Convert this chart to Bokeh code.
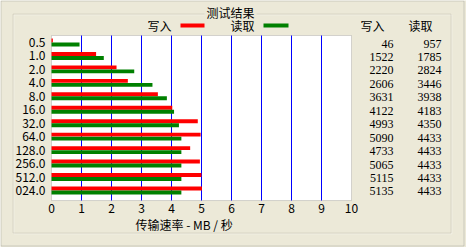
from bokeh.plotting import figure
from bokeh.models import (Range1d, Label, LabelSet, BoxAnnotation, ColumnDataSource,
                          FixedTicker, LinearAxis)
from bokeh.embed import file_html
from bokeh.resources import INLINE

# ---- data (KB/s as displayed in the right-hand columns) ----
block_sizes = ["0.5", "1.0", "2.0", "4.0", "8.0", "16.0", "32.0", "64.0",
               "128.0", "256.0", "512.0", "024.0"]
write_kb = [46, 1522, 2220, 2606, 3631, 4122, 4993, 5090, 4733, 5065, 5115, 5135]
read_kb = [957, 1785, 2824, 3446, 3938, 4183, 4350, 4433, 4433, 4433, 4433, 4433]
x_ticks = list(range(0, 11))

FONT = "Noto Sans CJK SC"
BG = "#ECE9D8"
W, H = 466, 247

rows = list(range(len(block_sizes)))
src = ColumnDataSource(dict(
    row=rows,
    row_w=[r - 0.15 for r in rows],
    row_r=[r + 0.15 for r in rows],
    write_mb=[v / 1024 for v in write_kb],
    read_mb=[v / 1024 for v in read_kb],
    write_txt=[str(v) for v in write_kb],
    read_txt=[str(v) for v in read_kb],
))

# frame spans the whole canvas; plot box sits at px x 51..350, y 35..200
PX_X = 30.0      # px per MB/s
PX_Y = 13.45     # px per row
X0, ROW0 = 51, 42
Y_TOP, Y_BOT = -0.52, 11.75
p = figure(width=W, height=H, output_backend="svg", toolbar_location=None,
           title=None, x_axis_location=None, y_axis_location=None,
           x_range=Range1d(-X0 / PX_X, (W - X0) / PX_X),
           y_range=Range1d((H - ROW0) / PX_Y, -ROW0 / PX_Y),
           min_border=0)
p.outline_line_color = None
p.background_fill_color = BG
p.border_fill_color = BG
p.grid.visible = False

def sbox(l, r, t, b, **kw):
    p.add_layout(BoxAnnotation(left=l, right=r, top=H - t, bottom=H - b,
                               left_units="screen", right_units="screen",
                               top_units="screen", bottom_units="screen", **kw))

# window frame and etched group box
sbox(0.5, 463.5, 0.5, 245.5, fill_color=None, line_color="#808080", level="underlay")
sbox(13.5, 451.5, 14.5, 233.5, fill_color=None, line_color="white", level="underlay")
sbox(12.5, 450.5, 13.5, 232.5, fill_color=None, line_color="#ACA899", level="underlay")

# white plot area
p.add_layout(BoxAnnotation(left=0, right=10, top=Y_TOP, bottom=Y_BOT,
                           fill_color="white", fill_alpha=1,
                           line_color="#808080", level="underlay"))

# vertical blue grid lines
p.segment(x0=x_ticks[1:-1], x1=x_ticks[1:-1], y0=Y_TOP, y1=Y_BOT,
          line_color="#0000FF", line_width=1)

p.hbar(y="row_w", left=0, right="write_mb", height=0.29, source=src,
       fill_color="#FF0000", line_color=None)
p.hbar(y="row_r", left=0, right="read_mb", height=0.29, source=src,
       fill_color="#008000", line_color=None)

# axes fixed at plot-box edges
xa = LinearAxis(fixed_location=Y_BOT, ticker=FixedTicker(ticks=x_ticks),
                bounds=(0, 10))
ya = LinearAxis(fixed_location=0, ticker=FixedTicker(ticks=rows),
                bounds=(Y_TOP, Y_BOT),
                major_label_overrides={i: s for i, s in enumerate(block_sizes)})
for ax in (xa, ya):
    ax.axis_line_color = None
    ax.major_tick_line_color = None
    ax.minor_tick_line_color = None
    ax.major_tick_out = 0
    ax.major_tick_in = 0
    ax.major_label_text_font = FONT
    ax.major_label_text_font_size = "12px"
    ax.major_label_text_color = "black"
xa.major_label_standoff = 3
ya.major_label_standoff = 6
p.add_layout(xa, "below")
p.add_layout(ya, "left")

def lab(text, x, y, align="left", **kw):
    p.add_layout(Label(x=x, y=H - y, x_units="screen", y_units="screen", text=text,
                       text_font=FONT, text_font_size="12px", text_color="black",
                       text_align=align, text_baseline="middle", **kw))

lab("测试结果", 230, 12, align="center", background_fill_color=BG, padding=2)
lab("写入", 147, 25)
lab("读取", 230, 25)
lab("写入", 360, 25)
lab("读取", 408, 25)
lab("传输速率 - MB / 秒", 135, 224)

# legend swatches
sbox(180, 204, 23, 27, fill_color="#FF0000", fill_alpha=1, line_color=None)
sbox(263, 288, 23, 27, fill_color="#008000", fill_alpha=1, line_color=None)

# right-hand value columns
for col, xpos in (("write_txt", 393), ("read_txt", 441)):
    p.add_layout(LabelSet(x=xpos, y="row", x_units="screen", y_units="data",
                          text=col, source=src, text_font=FONT,
                          text_font_size="12px", text_color="black",
                          text_align="right", text_baseline="middle",
                          y_offset=-1))

open("out.html", "w").write(file_html(p, INLINE))
